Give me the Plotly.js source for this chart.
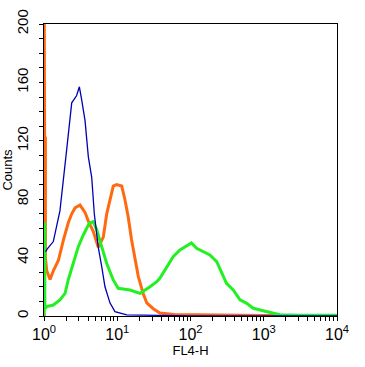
<!DOCTYPE html>
<html><head><meta charset="utf-8">
<script src="https://cdn.plot.ly/plotly-3.0.1.min.js"></script>
<style>html,body{margin:0;padding:0;background:#fff}#chart{width:365px;height:367px}</style>
</head><body><div id="chart"></div>
<script>
// Blue (control) histogram
const blueX = [1.05, 1.11, 1.34, 1.65, 2.04, 2.39, 2.79, 3.04, 3.27, 3.63, 4.03, 4.48, 4.86, 5.51, 6.13, 6.8, 7.95, 9.3, 13.5, 20, 30, 42, 60, 100, 1000, 10000];
const blueY = [44, 46, 51, 72, 114, 146, 151, 157, 148, 134, 109, 95, 70, 47, 34, 20, 9, 3, 0.8, 0.6, 0.5, 0.4, 0.2, 0.1, 0.1, 0.1];
// Orange histogram
const orangeX = [1.0, 1.0, 1.02, 1.02, 1.045, 1.045, 1.09, 1.21, 1.34, 1.57, 1.84, 2.15, 2.39, 2.65, 3.1, 3.63, 4.03, 4.7, 5.51, 6.45, 7.18, 7.95, 8.82, 9.8, 11.5, 12.7, 14.1, 15.7, 17.5, 19.4, 22.7, 25.3, 31, 38.3, 60, 100, 300, 1000, 10000];
const orangeY = [0, 260, 260, 122, 122, 40, 31, 25, 31, 38, 52, 64, 70, 74, 76, 71, 65, 58, 47, 54, 70, 80, 89, 90, 89, 80, 68, 52, 38, 27, 15, 9, 5, 2, 1, 0.8, 0.4, 0.3, 0.3];
// Green histogram
const greenX = [1.0, 1.0, 1.025, 1.025, 1.09, 1.34, 1.65, 1.94, 2.15, 2.51, 2.94, 3.44, 4.15, 4.7, 5.25, 6.13, 7.18, 8.82, 10.3, 14.9, 20.5, 28, 34.6, 38.3, 47.4, 58, 71.8, 93.6, 103, 121, 149, 184, 228, 266, 310, 383, 474, 585, 720, 890, 1100, 1660, 3000, 10000];
const greenY = [0, 63, 63, 5, 6.4, 7.5, 11, 15.5, 25, 36, 47.5, 55.5, 63.5, 64.6, 59, 47.5, 36, 24.7, 19, 17.8, 15.5, 20, 23.5, 26, 34, 40.6, 45.2, 48.6, 50, 46.4, 44, 41.8, 37.2, 29.2, 22.4, 17.8, 11, 8.7, 5.3, 4.1, 3, 0.8, 0.5, 0.5];

const yTicks = [0, 40, 80, 120, 160, 200];
const xTicks = [1, 10, 100, 1000, 10000];
const xTickText = ['10<sup>0</sup>', '10<sup>1</sup>', '10<sup>2</sup>', '10<sup>3</sup>', '10<sup>4</sup>'];
const xMinor = [];
for (let d = 1; d < 10000; d *= 10) for (let k = 2; k <= 9; k++) xMinor.push(k * d);
const yMinor = [];
for (let v = 0; v <= 200; v += 10) yMinor.push(v);

const traces = [
  {x: orangeX, y: orangeY, mode: 'lines', line: {color: '#ff6a10', width: 3}, hoverinfo: 'skip'},
  {x: greenX, y: greenY, mode: 'lines', line: {color: '#22f022', width: 3}, hoverinfo: 'skip'},
  {x: blueX, y: blueY, mode: 'lines', line: {color: '#0000b4', width: 1.3}, hoverinfo: 'skip'}
];
const layout = {
  width: 365, height: 367,
  margin: {l: 44, r: 28, t: 24, b: 51},
  paper_bgcolor: '#fff', plot_bgcolor: '#fff',
  showlegend: false,
  font: {family: 'Liberation Sans, Arial, sans-serif', color: '#000', size: 14},
  xaxis: {
    type: 'log', range: [0, 4], tickvals: xTicks, ticktext: xTickText,
    ticks: 'outside', ticklen: 4, tickcolor: '#000', showgrid: false, zeroline: false,
    showline: true, linecolor: '#000', linewidth: 1, mirror: true,
    tickfont: {size: 16},
    minor: {tickvals: xMinor, ticks: 'outside', ticklen: 4, tickcolor: '#000', showgrid: false},
    title: {text: 'FL4-H', font: {size: 13}, standoff: 0}
  },
  yaxis: {
    range: [0, 200], tickvals: yTicks, tickangle: -90,
    ticks: 'outside', ticklen: 4, tickcolor: '#000', showgrid: false, zeroline: false,
    showline: true, linecolor: '#000', linewidth: 1, mirror: true,
    tickfont: {size: 15}, ticklabelstandoff: 5,
    minor: {tickvals: yMinor, ticks: 'outside', ticklen: 4, tickcolor: '#000', showgrid: false},
    title: {text: 'Counts', font: {size: 13}, standoff: 3}
  }
};
Plotly.newPlot('chart', traces, layout, {staticPlot: true, displayModeBar: false});
</script></body></html>
